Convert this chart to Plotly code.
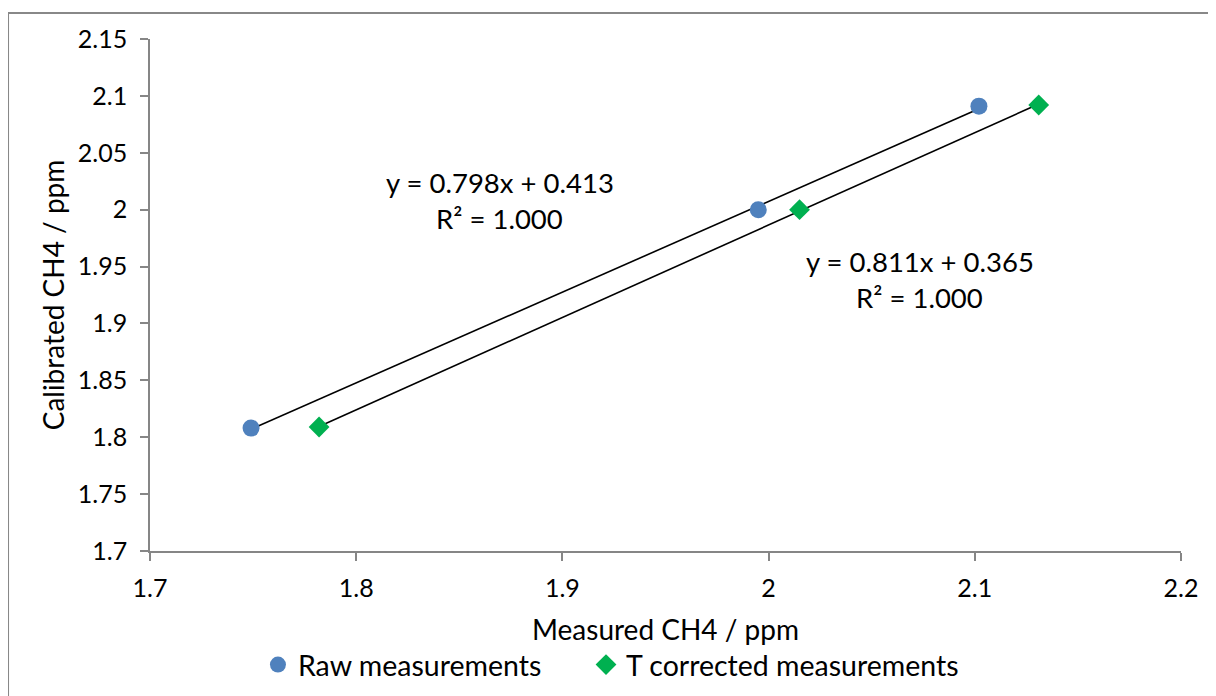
import numpy as np
import plotly.graph_objects as go

raw_x = [1.749, 1.995, 2.102]
raw_y = [1.808, 2.000, 2.091]
tc_x = [1.782, 2.015, 2.131]
tc_y = [1.809, 2.000, 2.092]

raw_eq = ["y = 0.798x + 0.413", "R² = 1.000"]
tc_eq = ["y = 0.811x + 0.365", "R² = 1.000"]

x_ticks = [1.7, 1.8, 1.9, 2.0, 2.1, 2.2]
x_labels = ["1.7", "1.8", "1.9", "2", "2.1", "2.2"]
y_ticks = [1.7, 1.75, 1.8, 1.85, 1.9, 1.95, 2.0, 2.05, 2.1, 2.15]
y_labels = ["1.7", "1.75", "1.8", "1.85", "1.9", "1.95", "2", "2.05", "2.1", "2.15"]

FONT = "Lato"
BLUE = "#4F81BD"
GREEN = "#00B050"
AXIS = "#868686"

fig = go.Figure()

# trendlines (fitted from data, spanning data range)
for xs, ys in [(raw_x, raw_y), (tc_x, tc_y)]:
    m, b = np.polyfit(xs, ys, 1)
    lx = [min(xs), max(xs)]
    ly = [m * v + b for v in lx]
    fig.add_trace(go.Scatter(x=lx, y=ly, mode="lines",
                             line=dict(color="black", width=1.6),
                             showlegend=False, hoverinfo="skip"))

fig.add_trace(go.Scatter(x=raw_x, y=raw_y, mode="markers", name="Raw measurements",
                         marker=dict(symbol="circle", size=17, color=BLUE), legend="legend"))
fig.add_trace(go.Scatter(x=tc_x, y=tc_y, mode="markers", name="T corrected measurements",
                         marker=dict(symbol="diamond", size=16, color=GREEN), legend="legend2"))

annotations = []
for (cx, cy), lines in [((1.8697, 2.0085), raw_eq), ((2.0734, 1.939), tc_eq)]:
    for i, t in enumerate(lines):
        annotations.append(dict(x=cx, y=cy, xref="x", yref="y", text=t, showarrow=False,
                                yshift=18 - 36 * i,
                                font=dict(family=FONT, size=27.5, color="black")))

legend_common = dict(orientation="h", y=-0.2227, xanchor="left", yanchor="middle",
                     font=dict(family=FONT, size=28.5), itemsizing="trace", tracegroupgap=0)

fig.update_layout(
    width=1216, height=696,
    margin=dict(l=142, r=43, t=31, b=153),
    paper_bgcolor="white", plot_bgcolor="white",
    font=dict(family=FONT, color="black"),
    annotations=annotations,
    legend=dict(x=0.1047, **legend_common),
    legend2=dict(x=0.4229, **legend_common),
    shapes=[dict(type="rect", xref="paper", yref="paper",
                 x0=-0.1377, x1=1.2, y0=-0.5, y1=1.0508,
                 line=dict(color="#888888", width=2), layer="below")],
)

fig.update_xaxes(range=[1.7, 2.2], tickvals=x_ticks, ticktext=x_labels,
                 showgrid=False, zeroline=False, showline=True, linecolor=AXIS, linewidth=1.5,
                 ticks="outside", ticklen=8, tickcolor=AXIS, tickwidth=1.5,
                 tickfont=dict(family=FONT, size=25), ticklabelstandoff=6,
                 title=dict(text="Measured CH4 / ppm", font=dict(family=FONT, size=28), standoff=20))
fig.update_yaxes(range=[1.7, 2.15], tickvals=y_ticks, ticktext=y_labels,
                 showgrid=False, zeroline=False, showline=True, linecolor=AXIS, linewidth=1.5,
                 ticks="outside", ticklen=8, tickcolor=AXIS, tickwidth=1.5,
                 tickfont=dict(family=FONT, size=25), ticklabelstandoff=8,
                 title=dict(text="Calibrated CH4 / ppm", font=dict(family=FONT, size=28), standoff=5))

fig.write_html("out.html")
